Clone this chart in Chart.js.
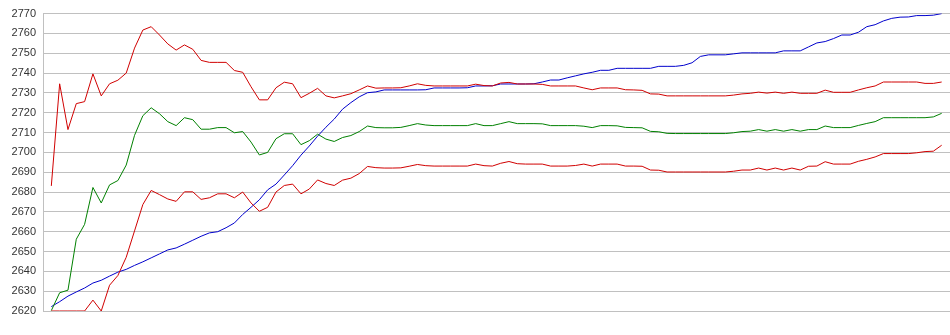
<!DOCTYPE html>
<html>
<head>
<meta charset="utf-8">
<script src="https://cdn.jsdelivr.net/npm/chart.js@4.4.1/dist/chart.umd.min.js"></script>
<style>
  html, body { margin: 0; padding: 0; background: #fff; }
  #wrap { width: 950px; height: 335px; position: relative; }
</style>
</head>
<body>
<div id="wrap"><canvas id="rangeChart"></canvas></div>
<script>
// values, one per sample (108 samples)
const upperBand = [2683.1, 2734.6, 2711.5, 2724.6, 2725.6, 2739.6, 2728.5, 2734.6, 2736.4, 2740,
  2752.6, 2761.7, 2763.4, 2759.2, 2754.7, 2751.6, 2754.2, 2752, 2746.4, 2745.4,
  2745.4, 2745.4, 2741.3, 2740.4, 2733.1, 2726.5, 2726.5, 2732.6, 2735.4, 2734.6,
  2727.6, 2729.8, 2732.3, 2728.5, 2727.5, 2728.5, 2729.6, 2731.5, 2733.5, 2732.4,
  2732.5, 2732.5, 2732.6, 2733.5, 2734.6, 2733.8, 2733.5, 2733.5, 2733.5, 2733.5,
  2733.5, 2734.4, 2733.7, 2733.5, 2735, 2735.3, 2734.5, 2734.5, 2734.5, 2734.3,
  2733.5, 2733.5, 2733.5, 2733.5, 2732.5, 2731.6, 2732.5, 2732.5, 2732.5, 2731.6,
  2731.5, 2731.3, 2729.5, 2729.4, 2728.5, 2728.5, 2728.5, 2728.5, 2728.5, 2728.5,
  2728.5, 2728.5, 2728.9, 2729.5, 2729.8, 2730.4, 2729.9, 2730.4, 2729.8, 2730.4,
  2729.8, 2729.8, 2729.8, 2731.4, 2730.3, 2730.3, 2730.3, 2731.5, 2732.6, 2733.5,
  2735.5, 2735.5, 2735.5, 2735.5, 2735.5, 2734.8, 2734.8, 2735.5];

const average = [2620.2, 2629.2, 2630.5, 2656.2, 2663.7, 2682.3, 2674.5, 2683.6, 2685.8, 2693.6,
  2708.6, 2718.5, 2722.5, 2719.5, 2715.5, 2713.5, 2717.5, 2716.5, 2711.7, 2711.7,
  2712.5, 2712.5, 2709.9, 2710.5, 2705.2, 2698.7, 2700, 2706.9, 2709.4, 2709.4,
  2703.9, 2705.9, 2709.2, 2706.7, 2705.5, 2707.5, 2708.5, 2710.5, 2713.3, 2712.5,
  2712.4, 2712.4, 2712.6, 2713.5, 2714.5, 2713.8, 2713.5, 2713.5, 2713.5, 2713.5,
  2713.5, 2714.5, 2713.5, 2713.5, 2714.5, 2715.5, 2714.5, 2714.5, 2714.5, 2714.4,
  2713.5, 2713.5, 2713.5, 2713.5, 2713.2, 2712.5, 2713.5, 2713.5, 2713.4, 2712.6,
  2712.5, 2712.4, 2710.6, 2710.4, 2709.6, 2709.5, 2709.5, 2709.5, 2709.5, 2709.5,
  2709.5, 2709.5, 2709.9, 2710.5, 2710.7, 2711.5, 2710.7, 2711.5, 2710.7, 2711.5,
  2710.7, 2711.5, 2711.5, 2713.3, 2712.5, 2712.5, 2712.5, 2713.6, 2714.6, 2715.5,
  2717.5, 2717.5, 2717.5, 2717.5, 2717.5, 2717.5, 2717.9, 2719.7];

const lowerBand = [2620, 2620, 2620, 2620, 2620, 2625.5, 2620, 2633, 2637.9, 2647.1,
  2660.4, 2673.7, 2680.8, 2678.7, 2676.5, 2675.3, 2680.1, 2680.1, 2676.3, 2677.1,
  2679.1, 2679.1, 2677.1, 2680, 2674.5, 2670.3, 2672.3, 2680, 2683.3, 2684,
  2679.1, 2681.5, 2686.1, 2684.3, 2683.3, 2686, 2687, 2689.3, 2692.9, 2692.3,
  2692.1, 2692.1, 2692.2, 2693, 2693.9, 2693.3, 2693.1, 2693.1, 2693.1, 2693.1,
  2693.1, 2694.1, 2693.3, 2693.1, 2694.5, 2695.4, 2694.3, 2694.1, 2694.1, 2694.1,
  2693.1, 2693.1, 2693.1, 2693.4, 2694.1, 2693.1, 2694.1, 2694.1, 2694.1, 2693.1,
  2693.1, 2693, 2691.1, 2691, 2690.1, 2690.1, 2690.1, 2690.1, 2690.1, 2690.1,
  2690.1, 2690.1, 2690.5, 2691.1, 2691.1, 2692.1, 2691.1, 2692.1, 2691.1, 2692.1,
  2691.1, 2693, 2693.1, 2695.3, 2694.1, 2694.1, 2694.1, 2695.5, 2696.5, 2697.7,
  2699.4, 2699.4, 2699.4, 2699.4, 2699.8, 2700.4, 2700.6, 2703.6];

const trend = [2622.2, 2624.7, 2627.5, 2629.6, 2631.6, 2634.1, 2635.5, 2637.6, 2639.6, 2641,
  2643, 2644.8, 2646.8, 2648.8, 2650.8, 2651.8, 2653.7, 2655.7, 2657.7, 2659.4,
  2660, 2662, 2664.4, 2668.7, 2672.3, 2676.1, 2681.1, 2684, 2688.6, 2693.3,
  2698.6, 2703.2, 2708.2, 2712.7, 2716.8, 2721.8, 2725.1, 2728, 2730.1, 2730.5,
  2731.5, 2731.5, 2731.5, 2731.5, 2731.5, 2731.6, 2732.5, 2732.5, 2732.5, 2732.5,
  2732.6, 2733.5, 2733.5, 2733.6, 2734.5, 2734.5, 2734.5, 2734.5, 2734.6, 2735.5,
  2736.5, 2736.5, 2737.6, 2738.6, 2739.6, 2740.4, 2741.4, 2741.4, 2742.4, 2742.4,
  2742.4, 2742.4, 2742.4, 2743.4, 2743.4, 2743.4, 2743.9, 2745.2, 2748.4, 2749.2,
  2749.2, 2749.2, 2749.7, 2750.2, 2750.2, 2750.2, 2750.2, 2750.2, 2751.2, 2751.2,
  2751.2, 2753.2, 2755.2, 2755.9, 2757.4, 2759.2, 2759.2, 2760.6, 2763.4, 2764.4,
  2766.3, 2767.6, 2768.2, 2768.3, 2769, 2769, 2769.2, 2770];

const yMin = 2620;
const yMax = 2770;
const yStep = 10;

function points(values) {
    return values.map((v, i) => ({ x: i, y: v }));
}

function lineSet(label, values, color) {
    return {
        label: label,
        data: points(values),
        borderColor: color,
        borderWidth: 1,
        pointRadius: 0,
        tension: 0,
        fill: false
    };
}

const ctx = document.getElementById('rangeChart').getContext('2d');
const rangeChart = new Chart(ctx, {
    type: 'line',
    data: {
        datasets: [
            lineSet('Upper', upperBand, '#d00000'),
            lineSet('Lower', lowerBand, '#d00000'),
            lineSet('Average', average, '#008000'),
            lineSet('Trend', trend, '#0000cc')
        ]
    },
    options: {
        responsive: true,
        maintainAspectRatio: false,
        animation: false,
        devicePixelRatio: 1,
        layout: {
            padding: { top: 10, bottom: 24, left: 0, right: 0 }
        },
        plugins: {
            legend: { display: false },
            tooltip: { enabled: false }
        },
        scales: {
            x: {
                type: 'linear',
                display: false,
                min: -1,
                max: upperBand.length
            },
            y: {
                min: yMin,
                max: yMax,
                afterFit: function (scale) {
                    scale.width = 43;
                },
                ticks: {
                    stepSize: yStep,
                    padding: 7,
                    color: '#333',
                    font: { family: 'Liberation Sans, Arial, sans-serif', size: 11 },
                    callback: function (value) {
                        return String(value);
                    }
                },
                grid: {
                    color: '#c0c0c0',
                    lineWidth: 1,
                    drawTicks: false
                },
                border: {
                    display: true,
                    color: '#c0c0c0'
                }
            }
        }
    }
});
</script>
</body>
</html>
